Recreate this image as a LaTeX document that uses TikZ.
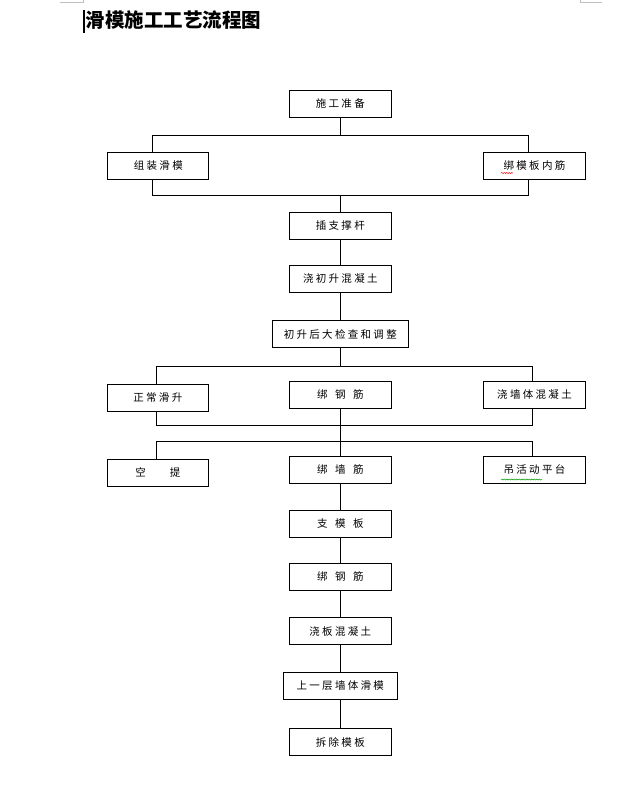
\documentclass[tikz,border=0pt]{standalone}
\usepackage{fontspec}
\usetikzlibrary{decorations.pathmorphing}
\newfontfamily\cjk[LetterSpace=22]{Noto Sans CJK SC}
\newfontfamily\cjktitle{Noto Sans CJK SC}
\newcommand\gp{\hspace{7.5pt}}

\begin{document}
\begin{tikzpicture}[x=1pt, y=-1pt, node distance=54pt, line width=0.9pt,
		stepbox/.style={rectangle, draw, minimum width=102pt, minimum height=27pt, inner sep=0pt, font=\cjk\fontsize{10.5}{12}\selectfont},
		squiggle/.style={line width=0.5pt, decorate, decoration={snake, amplitude=0.6pt, segment length=2.5pt}}]
		\useasboundingbox (0,0) rectangle (644,804);
		\fill[white] (0,0) rectangle (644,804);
		
		% title and page marks
		\node (title) [anchor=west, inner sep=0pt, font=\cjktitle\bfseries\fontsize{19.5}{21}\selectfont] at (85.5,20.5) {滑模施工工艺流程图};
		\draw[line width=1.2pt] (84,10) -- (84,33);
		\draw[gray!50, line width=0.6pt] (60,2) -- (83,2) -- (83,0);
		\draw[gray!50, line width=0.6pt] (602,2) -- (580,2) -- (580,0);
		
		\node (prep) [stepbox] at (340.3,103.7) {施工准备};
		\node (zuzhuang) [stepbox, minimum width=101pt] at (158.3,165.5) {组装滑模};
		\node (bangmo) [stepbox] at (534.5,165.5) {绑模板内筋};
		\node (chagan) [stepbox, node distance=122.3pt, below of=prep] {插支撑杆};
		\node (jiaochu) [stepbox, node distance=53pt, below of=chagan] {浇初升混凝土};
		\node (chusheng) [stepbox, minimum width=136pt, node distance=55pt, below of=jiaochu] {初升后大检查和调整};
		\node (gangjin) [stepbox, node distance=60.7pt, below of=chusheng] {绑\gp 钢\gp 筋};
		\node (zhengchang) [stepbox, minimum width=101pt] at (157.8,397.5) {正常滑升};
		\node (jiaoqiang) [stepbox] at (534.5,394.8) {浇墙体混凝土};
		\node (bangqiang) [stepbox, node distance=75pt, below of=gangjin] {绑\gp 墙\gp 筋};
		\node (kongti) [stepbox, minimum width=101pt] at (157.8,472.7) {空\hspace{24pt}提};
		\node (diao) [stepbox] at (534.5,469.7) {吊活动平台};
		\node (zhimo) [stepbox, below of=bangqiang] {支\gp 模\gp 板};
		\node (gangjinb) [stepbox, node distance=53pt, below of=zhimo] {绑\gp 钢\gp 筋};
		\node (jiaoban) [stepbox, node distance=54.5pt, below of=gangjinb] {浇板混凝土};
		\node (shangyi) [stepbox, minimum width=114pt, node distance=54.5pt, below of=jiaoban] {上一层墙体滑模};
		\node (chaichu) [stepbox, node distance=56.5pt, below of=shangyi] {拆除模板};
		
		% bus lines
		\coordinate (b1l) at (152,135);
		\coordinate (b1r) at (528,135);
		\coordinate (b2l) at (152,195);
		\coordinate (b2r) at (528,195);
		\coordinate (b3l) at (156.7,366.7);
		\coordinate (b3r) at (532.7,366.7);
		\coordinate (b4l) at (156.7,425.7);
		\coordinate (b4r) at (532.7,425.7);
		\coordinate (b5l) at (156.7,441);
		\coordinate (b5r) at (532.7,441);
		
		\draw (prep.south) -- (prep |- b1l);
		\draw (b1l |- zuzhuang.north) -- (b1l) -- (b1r) -- (b1r |- bangmo.north);
		\draw (b2l |- zuzhuang.south) -- (b2l) -- (b2r) -- (b2r |- bangmo.south);
		\draw (prep |- b2l) -- (chagan.north);
		\draw (chagan) -- (jiaochu);
		\draw (jiaochu) -- (chusheng);
		\draw (chusheng.south) -- (chusheng |- b3l);
		\draw (b3l |- zhengchang.north) -- (b3l) -- (b3r) -- (b3r |- jiaoqiang.north);
		\draw (b4l |- zhengchang.south) -- (b4l) -- (b4r) -- (b4r |- jiaoqiang.south);
		\draw (gangjin) -- (bangqiang);
		\draw (b5l |- kongti.north) -- (b5l) -- (b5r) -- (b5r |- diao.north);
		\draw (bangqiang) -- (zhimo);
		\draw (zhimo) -- (gangjinb);
		\draw (gangjinb) -- (jiaoban);
		\draw (jiaoban) -- (shangyi);
		\draw (shangyi) -- (chaichu);
		
		% spelling marks
		\draw[red, squiggle] (501,173) -- (513,173);
		\draw[green!60!black, squiggle] (501,479.5) -- (542,479.5);
	\end{tikzpicture}
\end{document}
